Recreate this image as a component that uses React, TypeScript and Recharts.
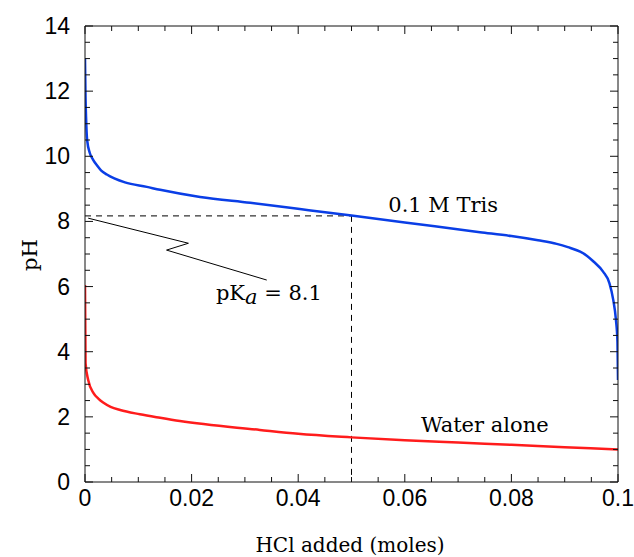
import React from 'react';
import { LineChart, Line, XAxis, YAxis, ReferenceDot, Label } from 'recharts';

// 0.1 M Tris titration curve
const trisX = [0, 0.0001, 0.0002, 0.0004, 0.0009, 0.0015, 0.0022, 0.003, 0.0041, 0.0055, 0.0075, 0.0116, 0.0141, 0.0216, 0.031, 0.0403, 0.05, 0.06, 0.0741, 0.08, 0.085, 0.0885, 0.0906, 0.0929, 0.0942, 0.0954, 0.0972, 0.0984, 0.0991, 0.0996, 0.0999, 0.1];
const trisPH = [13, 11.8, 11.2, 10.5, 10.1, 9.9, 9.73, 9.57, 9.44, 9.32, 9.2, 9.06, 8.97, 8.75, 8.57, 8.38, 8.18, 7.97, 7.67, 7.55, 7.42, 7.31, 7.21, 7.07, 6.94, 6.77, 6.46, 6.1, 5.6, 5.0, 4.3, 3.13];

// water alone
const waterX = [0, 0.0001, 0.0006, 0.0016, 0.0025, 0.0034, 0.0048, 0.0066, 0.0103, 0.0141, 0.0178, 0.0328, 0.04, 0.05, 0.06, 0.07, 0.08, 0.09, 0.1];
const waterPH = [6.05, 3.65, 3.13, 2.73, 2.56, 2.44, 2.31, 2.21, 2.08, 1.97, 1.87, 1.6, 1.48, 1.37, 1.28, 1.21, 1.14, 1.07, 1.0];

// pKa guide lines and pointer
const pkaLevel = 8.17;
const halfPoint = 0.05;
const pointerX = [0.0006, 0.0194, 0.0153, 0.0341];
const pointerY = [8.1, 7.33, 7.12, 6.2];

const xTicks = [0, 0.005, 0.01, 0.015, 0.02, 0.025, 0.03, 0.035, 0.04, 0.045, 0.05, 0.055, 0.06, 0.065, 0.07, 0.075, 0.08, 0.085, 0.09, 0.095, 0.1];
const yTicks = [0, 0.5, 1, 1.5, 2, 2.5, 3, 3.5, 4, 4.5, 5, 5.5, 6, 6.5, 7, 7.5, 8, 8.5, 9, 9.5, 10, 10.5, 11, 11.5, 12, 12.5, 13, 13.5, 14];

const toPoints = (xs: number[], ys: number[]) => xs.map((x, i) => ({ x, y: ys[i] }));
const trisData = toPoints(trisX, trisPH);
const waterData = toPoints(waterX, waterPH);
const hDash = toPoints([0, halfPoint], [pkaLevel, pkaLevel]);
const vDash = toPoints([halfPoint, halfPoint], [pkaLevel, 0]);
const pointerData = toPoints(pointerX, pointerY);
const frameData = toPoints([0, 0.1], [0, 14]);

const isMajorX = (v: number) => Math.abs(v / 0.02 - Math.round(v / 0.02)) < 1e-6;
const isMajorY = (v: number) => Math.abs(v / 2 - Math.round(v / 2)) < 1e-6;
const fmtX = (v: number) => (v === 0 ? '0' : v === 0.1 ? '0.1' : v.toFixed(2));

const SANS = 'Liberation Sans, Arial, sans-serif';
const SERIF = 'DejaVu Serif, serif';
const AXIS = '#111';

const BottomTick = ({ x, y, payload }: any) => {
  const major = isMajorX(payload.value);
  return (
    <g>
      <line x1={x} x2={x} y1={y} y2={y - (major ? 8 : 5)} stroke={AXIS} />
      {major && (
        <text x={x} y={y + 24} textAnchor="middle" fontFamily={SANS} fontSize={23} fill="#000">
          {fmtX(payload.value)}
        </text>
      )}
    </g>
  );
};

const TopTick = ({ x, y, payload }: any) => {
  const major = isMajorX(payload.value);
  return <line x1={x} x2={x} y1={y} y2={y + (major ? 8 : 5)} stroke={AXIS} />;
};

const LeftTick = ({ x, y, payload }: any) => {
  const major = isMajorY(payload.value);
  return (
    <g>
      <line x1={x} x2={x + (major ? 8 : 5)} y1={y} y2={y} stroke={AXIS} />
      {major && (
        <text x={x - 15} y={y + 8} textAnchor="end" fontFamily={SANS} fontSize={23} fill="#000">
          {payload.value}
        </text>
      )}
    </g>
  );
};

const RightTick = ({ x, y, payload }: any) => {
  const major = isMajorY(payload.value);
  return <line x1={x} x2={x - (major ? 8 : 5)} y1={y} y2={y} stroke={AXIS} />;
};

const textShape = (content: React.ReactNode) => (props: any) => (
  <text x={props.cx} y={props.cy} textAnchor="middle" dominantBaseline="central" fontFamily={SERIF} fontSize={21} fill="#000">
    {content}
  </text>
);

const App: React.FC = () => {
  return (
    <div style={{ position: 'absolute', left: 0, top: 0, background: '#fff' }}>
      <LineChart width={634} height={557} margin={{ top: 25, right: 15, bottom: 45, left: 25 }}>
        <XAxis
          dataKey="x"
          type="number"
          domain={[0, 0.1]}
          ticks={xTicks}
          interval={0}
          height={30}
          tickSize={0}
          tickMargin={0}
          tick={<BottomTick />}
          axisLine={{ stroke: AXIS }}
          allowDataOverflow
        >
          <Label
            content={() => (
              <text x={350} y={552} textAnchor="middle" fontFamily={SERIF} fontSize={20} fill="#000">
                HCl added (moles)
              </text>
            )}
          />
        </XAxis>
        <XAxis
          xAxisId="top"
          orientation="top"
          dataKey="x"
          type="number"
          domain={[0, 0.1]}
          ticks={xTicks}
          interval={0}
          height={1}
          tickSize={0}
          tickMargin={0}
          tick={<TopTick />}
          axisLine={{ stroke: AXIS }}
          allowDataOverflow
        />
        <YAxis
          type="number"
          domain={[0, 14]}
          ticks={yTicks}
          interval={0}
          width={60}
          tickSize={0}
          tickMargin={0}
          tick={<LeftTick />}
          axisLine={{ stroke: AXIS }}
          allowDataOverflow
        >
          <Label
            content={() => (
              <text
                x={30}
                y={255}
                textAnchor="middle"
                dominantBaseline="central"
                fontFamily={SERIF}
                fontSize={21}
                fill="#000"
                transform="rotate(-90 30 255)"
              >
                pH
              </text>
            )}
          />
        </YAxis>
        <YAxis
          yAxisId="right"
          orientation="right"
          type="number"
          domain={[0, 14]}
          ticks={yTicks}
          interval={0}
          width={1}
          tickSize={0}
          tickMargin={0}
          tick={<RightTick />}
          axisLine={{ stroke: AXIS }}
          allowDataOverflow
        />

        {/* invisible series so the mirrored top/right axes get drawn */}
        <Line xAxisId="top" yAxisId="right" data={frameData} dataKey="y" stroke="none" dot={false} legendType="none" isAnimationActive={false} />

        <Line data={hDash} dataKey="y" type="linear" stroke="#000" strokeWidth={1} strokeDasharray="6 5" dot={false} isAnimationActive={false} />
        <Line data={vDash} dataKey="y" type="linear" stroke="#000" strokeWidth={1} strokeDasharray="6 5" dot={false} isAnimationActive={false} />
        <Line data={pointerData} dataKey="y" type="linear" stroke="#000" strokeWidth={1} dot={false} isAnimationActive={false} />
        <Line data={waterData} dataKey="y" type="monotone" stroke="#ff1c1c" strokeWidth={2.5} dot={false} isAnimationActive={false} />
        <Line data={trisData} dataKey="y" type="monotone" stroke="#0a3ee6" strokeWidth={2.5} dot={false} isAnimationActive={false} />

        <ReferenceDot x={0.0672} y={8.5} r={0} shape={textShape('0.1 M Tris')} />
        <ReferenceDot x={0.075} y={1.75} r={0} shape={textShape('Water alone')} />
        <ReferenceDot
          x={0.0345}
          y={5.8}
          r={0}
          shape={textShape(
            <>
              pK
              <tspan fontStyle="italic" dy={4}>a</tspan>
              <tspan dy={-4}> = 8.1</tspan>
            </>
          )}
        />
      </LineChart>
    </div>
  );
};

export default App;
